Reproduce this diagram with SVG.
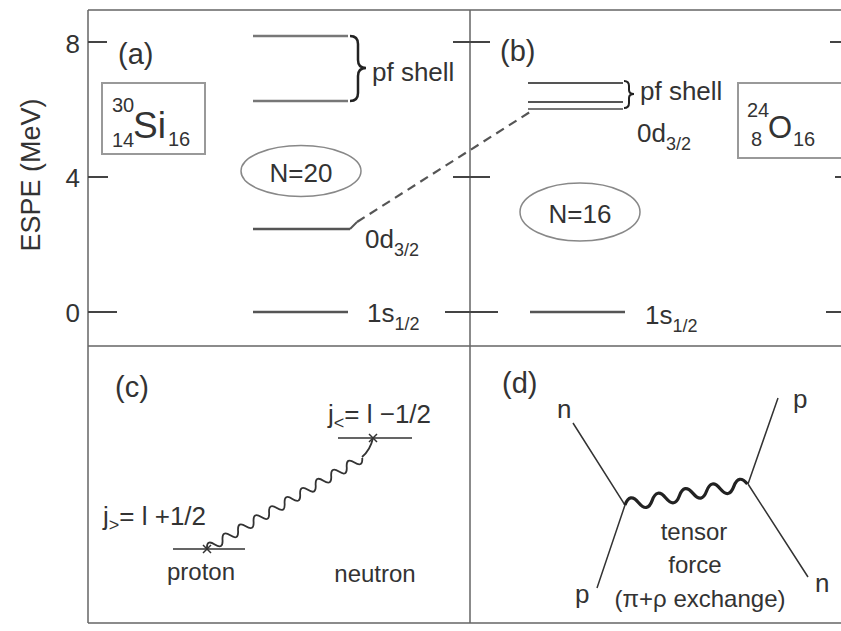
<svg xmlns="http://www.w3.org/2000/svg" width="841" height="631" viewBox="0 0 841 631">
<style>
text{font-family:"Liberation Sans",Arial,sans-serif;fill:#333}
.t26{font-size:26px}
.t24{font-size:24px}
.sub{font-size:18px}
.frame{stroke:#666;stroke-width:1.5;fill:none}
.tick{stroke:#444;stroke-width:2;fill:none}
.lvl{stroke:#555;stroke-width:2.5;fill:none}
.lvlg{stroke:#777;stroke-width:2.5;fill:none}
.thin{stroke:#333;stroke-width:1.5;fill:none}
.box{stroke:#999;stroke-width:2;fill:none}
.ell{stroke:#888;stroke-width:1.5;fill:none}
</style>
<rect width="841" height="631" fill="#fff"/>
<g id="frame">
<path class="frame" d="M88,10H841M88,10V623M470,10V623M88,346H841M88,623H841"/>
</g>
<g id="axis">
<path class="tick" d="M88,42H107M88,177H108M88,312H117M453,42H490M453,177H490M445,312H498M830,42H841M835,177H841M826,312H841"/>
<text class="t26" x="80" y="53" text-anchor="end">8</text>
<text class="t26" x="80" y="187" text-anchor="end">4</text>
<text class="t26" x="80" y="322" text-anchor="end">0</text>
<text class="t26" transform="translate(40,175) rotate(-90)" text-anchor="middle" style="font-size:27px">ESPE (MeV)</text>
</g>
<g id="panel-a">
<text class="t26" x="118" y="64" style="font-size:29px">(a)</text>
<rect class="box" x="102" y="83" width="103" height="71"/>
<text x="112" y="112" style="font-size:20px">30</text>
<text x="112" y="147" style="font-size:20px">14</text>
<text x="133" y="138" style="font-size:37px">Si</text>
<text x="168" y="146" style="font-size:20px">16</text>
<path class="lvlg" d="M253,36H348M253,101H348"/>
<path class="lvl" d="M253,229H350M253,312H348"/>
<path d="M350,36Q358,36 358,44V60Q358,68 366,68Q358,68 358,76V93Q358,101 350,101" stroke="#222" stroke-width="2.5" fill="none"/>
<text class="t26" x="372" y="81">pf shell</text>
<ellipse class="ell" cx="301" cy="171" rx="60" ry="25.5"/>
<text class="t26" x="301" y="182" text-anchor="middle">N=20</text>
<text class="t26" x="365" y="248">0d<tspan class="sub" dy="8">3/2</tspan></text>
<text class="t26" x="367" y="322">1s<tspan class="sub" dy="8">1/2</tspan></text>
</g>
<g id="panel-b">
<text class="t26" x="500" y="61" style="font-size:29px">(b)</text>
<path class="lvl" d="M528,83H623M528,102H623" style="stroke-width:2"/>
<path class="lvlg" d="M528,109H623" style="stroke-width:2"/>
<path d="M624,81Q629,81 629,86V90Q629,94 634,94Q629,94 629,98V103Q629,108 624,108" stroke="#222" stroke-width="2" fill="none"/>
<text class="t26" x="640" y="100">pf shell</text>
<text class="t26" x="637" y="142">0d<tspan class="sub" dy="8">3/2</tspan></text>
<rect class="box" x="738" y="83" width="110" height="75"/>
<text x="747" y="117" style="font-size:20px">24</text>
<text x="751" y="146" style="font-size:20px">8</text>
<text x="768" y="138" style="font-size:31px">O</text>
<text x="793" y="146" style="font-size:20px">16</text>
<ellipse class="ell" cx="580" cy="212" rx="60" ry="29"/>
<text class="t26" x="580" y="223" text-anchor="middle">N=16</text>
<path class="lvl" d="M530,312H625"/>
<text class="t26" x="645" y="324">1s<tspan class="sub" dy="8">1/2</tspan></text>
</g>
<g id="connectors">
<path d="M350,229L357,222" stroke="#555" stroke-width="2" fill="none"/>
<path d="M357,222L530,112" stroke="#555" stroke-width="2.2" stroke-dasharray="9,6" fill="none"/>
</g>
<g id="panel-c">
<text class="t26" x="115" y="397" style="font-size:29px">(c)</text>
<text class="t26" x="328" y="423">j<tspan class="sub" dy="6">&lt;</tspan><tspan dy="-6">= l −1/2</tspan></text>
<path class="thin" d="M338,438H412M173,549H245"/>
<path class="thin" d="M369,434L377,442M377,434L369,442M203,545L211,553M211,545L203,553"/>
<g transform="translate(207,549) rotate(-30.4)">
<path class="thin" style="stroke-width:1.8" d="M0,0q4.5,-9 9,0t9,0t9,0t9,0t9,0t9,0t9,0t9,0t9,0t9,0t9,0t9,0t9,0t9,0t9,0t9,0t9,0t9,0t9,0t9,0"/>
</g>
<path class="thin" style="stroke-width:1.8" d="M362,457C368,452 371,447 373,438"/>
<text class="t26" x="103" y="525">j<tspan class="sub" dy="6">&gt;</tspan><tspan dy="-6">= l +1/2</tspan></text>
<text class="t24" x="201" y="580" text-anchor="middle">proton</text>
<text class="t24" x="375" y="582" text-anchor="middle">neutron</text>
</g>
<g id="panel-d">
<text class="t26" x="502" y="393" style="font-size:29px">(d)</text>
<path class="thin" d="M573,423L625,505L597,588M748,484L778,398M748,484L808,577"/>
<g transform="translate(625,505) rotate(-9.7)">
<path d="M0,0q6.9,-12 13.8,0t13.8,0t13.8,0t13.8,0t13.8,0t13.8,0t13.8,0t13.8,0t13.8,0" stroke="#222" stroke-width="3.2" fill="none"/>
</g>
<text class="t26" x="557" y="418">n</text>
<text class="t26" x="793" y="408">p</text>
<text class="t26" x="575" y="603">p</text>
<text class="t26" x="815" y="592">n</text>
<text class="t24" x="694" y="540" text-anchor="middle">tensor</text>
<text class="t24" x="695" y="573" text-anchor="middle">force</text>
<text class="t24" x="700" y="607" text-anchor="middle">(π+ρ exchange)</text>
</g>
</svg>
